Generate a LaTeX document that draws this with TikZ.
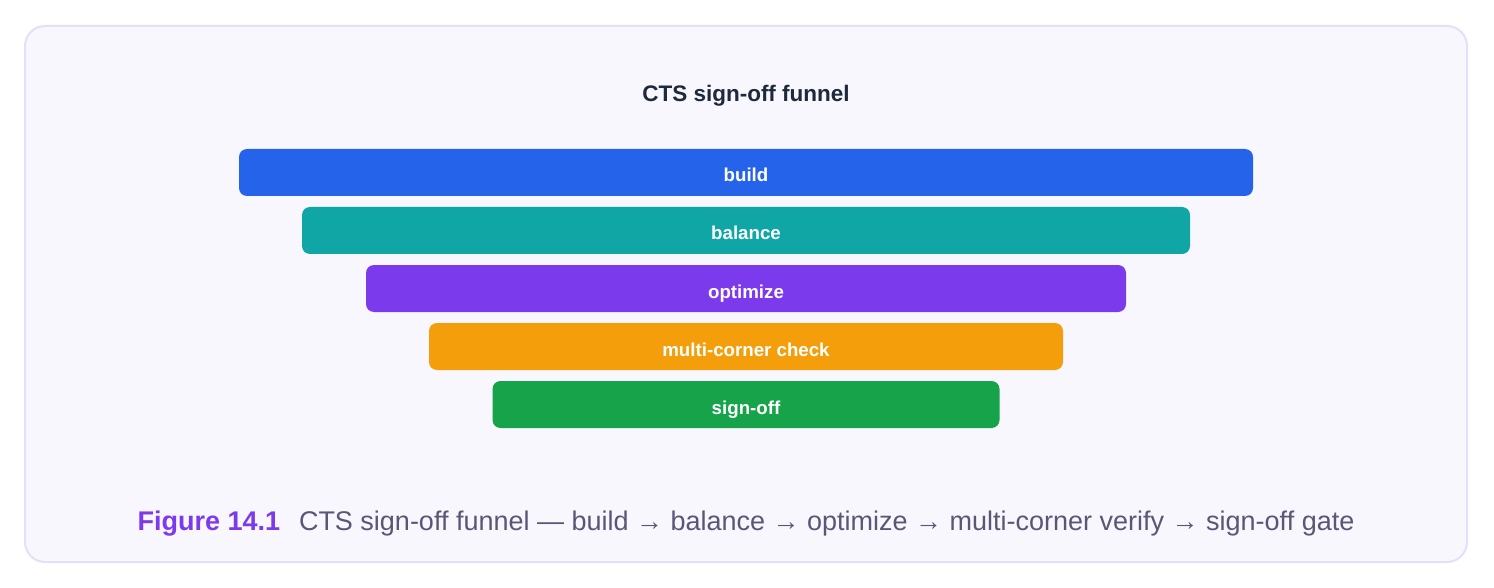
\documentclass[tikz,border=0pt]{standalone}
\usepackage{fontspec}
\setmainfont{Liberation Sans}
\definecolor{framefill}{HTML}{F8F7FE}
\definecolor{framedraw}{HTML}{E3E0F7}
\definecolor{titlec}{HTML}{1E293B}
\definecolor{cblue}{HTML}{2563EB}
\definecolor{cteal}{HTML}{10A6A6}
\definecolor{cpurple}{HTML}{7C3AED}
\definecolor{corange}{HTML}{F59E0B}
\definecolor{cgreen}{HTML}{16A34A}
\definecolor{capgray}{HTML}{5B5675}
\tikzset{
  bar/.style={rounded corners=8pt, inner sep=0pt, minimum height=47pt, draw=none},
  barlabel/.style={anchor=base, inner sep=0pt, text=white,
    font=\bfseries\fontsize{18.7}{22}\selectfont},
}
\begin{document}
\begin{tikzpicture}[x=1pt,y=-1pt]
\useasboundingbox (0,0) rectangle (1494,588);
\draw[fill=framefill, draw=framedraw, line width=2pt, rounded corners=20pt] (25,26) rectangle (1467,562);
\node[anchor=base, inner sep=0pt, font=\bfseries\fontsize{22.5}{27}\selectfont, text=titlec] (title) at (746,102) {CTS sign-off funnel};
\node[bar, fill=cblue, minimum width=1014pt] (build) at (746,172.5) {};
\node[bar, fill=cteal, minimum width=888pt] (balance) at (746,230.5) {};
\node[bar, fill=cpurple, minimum width=760pt] (optimize) at (746,288.5) {};
\node[bar, fill=corange, minimum width=634pt] (multi) at (746,346.5) {};
\node[bar, fill=cgreen, minimum width=507pt] (signoff) at (746,404.5) {};
\node[barlabel] (buildl) at (746,182) {build};
\node[barlabel] (balancel) at (746,240) {balance};
\node[barlabel] (optimizel) at (746,298) {optimize};
\node[barlabel] (multil) at (746,356) {multi-corner check};
\node[barlabel] (signoffl) at (746,414) {sign-off};
\node[anchor=base, inner sep=0pt, font=\fontsize{27}{32}\selectfont, text=capgray] (caption) at (746,530)
  {\textcolor{cpurple}{\bfseries Figure 14.1}\hspace{0.7em}CTS sign-off funnel — build → balance → optimize → multi-corner verify → sign-off gate};
\end{tikzpicture}
\end{document}
